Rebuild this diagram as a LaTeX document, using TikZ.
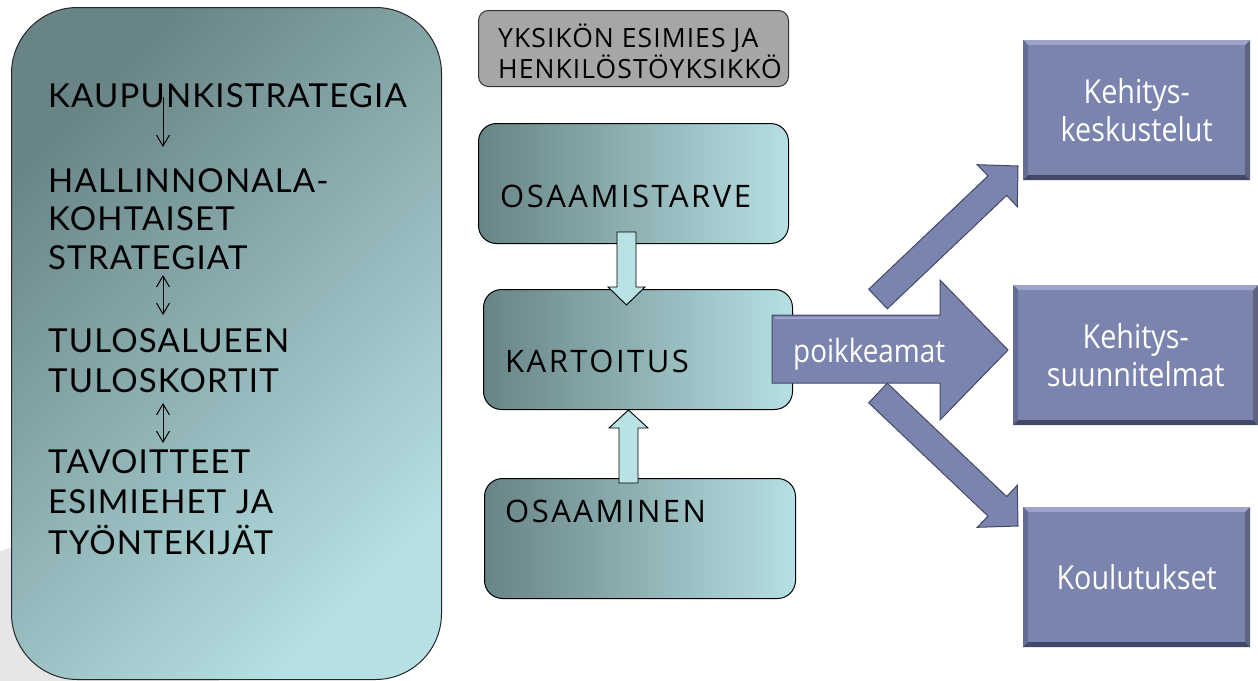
\documentclass[tikz,border=0pt]{standalone}
\usepackage{fontspec}
\usetikzlibrary{arrows.meta}
\newfontfamily\leftfont[LetterSpace=3.5]{Lato}
\newfontfamily\midfont[LetterSpace=8]{Open Sans}
\newfontfamily\hdrfont[LetterSpace=4]{Open Sans}
\newfontfamily\rightfont[FakeStretch=0.87]{Open Sans}
\definecolor{tealdark}{RGB}{104,132,134}
\definecolor{teallight}{RGB}{182,224,227}
\definecolor{arrowfill}{RGB}{185,226,229}
\definecolor{graybox}{RGB}{166,166,166}
\definecolor{bgcirc}{RGB}{230,230,230}
\definecolor{slate}{RGB}{122,132,174}
\definecolor{slatelight}{RGB}{156,164,204}
\definecolor{slatemid}{RGB}{100,109,150}
\definecolor{slatedark}{RGB}{66,73,104}
\tikzset{
  leftbox/.style={anchor=north west, draw=black!85, line width=1pt,
    rounded corners=66pt, top color=tealdark, bottom color=teallight, shading angle=45,
    minimum width=430pt, minimum height=672pt, inner sep=0pt},
  midbox/.style={anchor=north west, draw=black, line width=1pt, rounded corners=18pt,
    left color=tealdark, right color=teallight, inner sep=0pt,
    minimum width=310pt, minimum height=120pt},
  graybx/.style={anchor=north west, draw=black!80, line width=1pt, rounded corners=10pt,
    fill=graybox, inner sep=0pt, minimum width=310pt, minimum height=76pt},
  lt/.style={anchor=base west, inner sep=0pt, text=black,
    font=\leftfont\fontsize{33}{40}\selectfont},
  mt/.style={anchor=base west, inner sep=0pt, text=black,
    font=\midfont\fontsize{31}{36}\selectfont},
  gt/.style={anchor=base west, inner sep=0pt, text=black,
    font=\hdrfont\fontsize{26.5}{31}\selectfont},
  thinarrow/.style={line width=1pt, black},
  blockarrow/.style={fill=arrowfill, draw=black, line width=0.9pt},
  slatearrow/.style={fill=slate, draw=slatedark, line width=1pt, line join=miter},
  bevel/.style={path picture={
    \fill[slatelight] (path picture bounding box.north west) -- (path picture bounding box.north east)
      -- ([xshift=-5pt,yshift=-5pt]path picture bounding box.north east)
      -- ([xshift=5pt,yshift=-5pt]path picture bounding box.north west) -- cycle;
    \fill[slatemid] (path picture bounding box.north west) -- (path picture bounding box.south west)
      -- ([xshift=5pt,yshift=5pt]path picture bounding box.south west)
      -- ([xshift=5pt,yshift=-5pt]path picture bounding box.north west) -- cycle;
    \fill[slatedark] (path picture bounding box.south west) -- (path picture bounding box.south east)
      -- ([xshift=-5pt,yshift=5pt]path picture bounding box.south east)
      -- ([xshift=5pt,yshift=5pt]path picture bounding box.south west) -- cycle;
    \fill[slatedark!85] (path picture bounding box.north east) -- (path picture bounding box.south east)
      -- ([xshift=-5pt,yshift=5pt]path picture bounding box.south east)
      -- ([xshift=-5pt,yshift=-5pt]path picture bounding box.north east) -- cycle;
  }},
  rightbox/.style={anchor=north west, fill=slate, bevel, inner sep=0pt, align=center,
    text=white, font=\rightfont\fontsize{33}{38}\selectfont},
}
\begin{document}
\begin{tikzpicture}[x=1pt,y=-1pt]
\useasboundingbox (0,0) rectangle (1258,680);
\fill[white] (0,0) rectangle (1258,680);
% background decoration
\fill[bgcirc] (60,700) circle[radius=160];

% left strategy box
\node[leftbox] (strat) at (11,7) {};
\node[lt] (kaup) at (48,107) {KAUPUNKISTRATEGIA};
\node[lt] (hall) at (48,192) {HALLINNONALA-};
\node[lt] (koht) at (48,230) {KOHTAISET};
\node[lt] (stra) at (48,269) {STRATEGIAT};
\node[lt] (tulo) at (48,352) {TULOSALUEEN};
\node[lt] (tulk) at (48,392) {TULOSKORTIT};
\node[lt] (tavo) at (48,473) {TAVOITTEET};
\node[lt] (esim) at (48,513) {ESIMIEHET JA};
\node[lt] (tyon) at (48,554) {TYÖNTEKIJÄT};
\coordinate (a1s) at (163,97);  \coordinate (a1e) at (163,147);
\coordinate (a2s) at (163,275); \coordinate (a2e) at (163,315);
\coordinate (a3s) at (163,403); \coordinate (a3e) at (163,443);
\draw[thinarrow, -{Straight Barb[length=11pt,width=13pt]}] (a1s) -- (a1e);
\draw[thinarrow, {Straight Barb[length=11pt,width=13pt]}-{Straight Barb[length=11pt,width=13pt]}] (a2s) -- (a2e);
\draw[thinarrow, {Straight Barb[length=11pt,width=13pt]}-{Straight Barb[length=11pt,width=13pt]}] (a3s) -- (a3e);

% gray header box
\node[graybx] (hdr) at (478,10) {};
\node[gt] (hdr1) at (498,47) {YKSIKÖN ESIMIES JA};
\node[gt] (hdr2) at (498,78) {HENKILÖSTÖYKSIKKÖ};

% middle boxes
\node[midbox] (tarve) at (478,123) {};
\node[mt] (tarvet) at (500,207) {OSAAMISTARVE};
\node[midbox, minimum width=309pt, minimum height=120pt] (kart) at (483,289) {};
\node[mt] (kartt) at (505,372) {KARTOITUS};
\node[midbox, minimum width=311pt, minimum height=120pt] (osaa) at (484,478) {};
\node[mt] (osaat) at (505,522) {OSAAMINEN};

% block arrows between middle boxes
\draw[blockarrow] (617,232) -- (636,232) -- (636,287) -- (645,287) -- (626.5,305)
  -- (608,287) -- (617,287) -- cycle;
\draw[blockarrow] (619,483) -- (619,428) -- (609,428) -- (628.5,410) -- (648,428)
  -- (638,428) -- (638,483) -- cycle;

% slate arrows
\draw[slatearrow] (772,315) -- (940,315) -- (940,280) -- (1008,350) -- (940,420)
  -- (940,383) -- (772,383) -- cycle;
\draw[slatelight, line width=2pt] (775,318) -- (938,318);
\node[anchor=base west, inner sep=0pt, text=white, font=\rightfont\fontsize{32}{36}\selectfont]
  (poik) at (793,362) {poikkeamat};
\draw[slatearrow] (868.7,289.2) -- (988,175.9) -- (977.3,164.7) -- (1018,166)
  -- (1017.3,206.7) -- (1006.6,195.5) -- (887.3,308.8) -- cycle;
\draw[slatearrow] (868.7,402.8) -- (988,516.1) -- (977.3,527.3) -- (1018,526)
  -- (1017.3,485.3) -- (1006.6,496.5) -- (887.3,383.2) -- cycle;

% right boxes
\node[rightbox, minimum width=227pt, minimum height=140pt] (kesk) at (1023,40) {Kehitys-\\keskustelut};
\node[rightbox, minimum width=245pt, minimum height=140pt] (suun) at (1013,285) {Kehitys-\\suunnitelmat};
\node[rightbox, minimum width=227pt, minimum height=140pt] (koul) at (1023,507) {Koulutukset};
\end{tikzpicture}
\end{document}
